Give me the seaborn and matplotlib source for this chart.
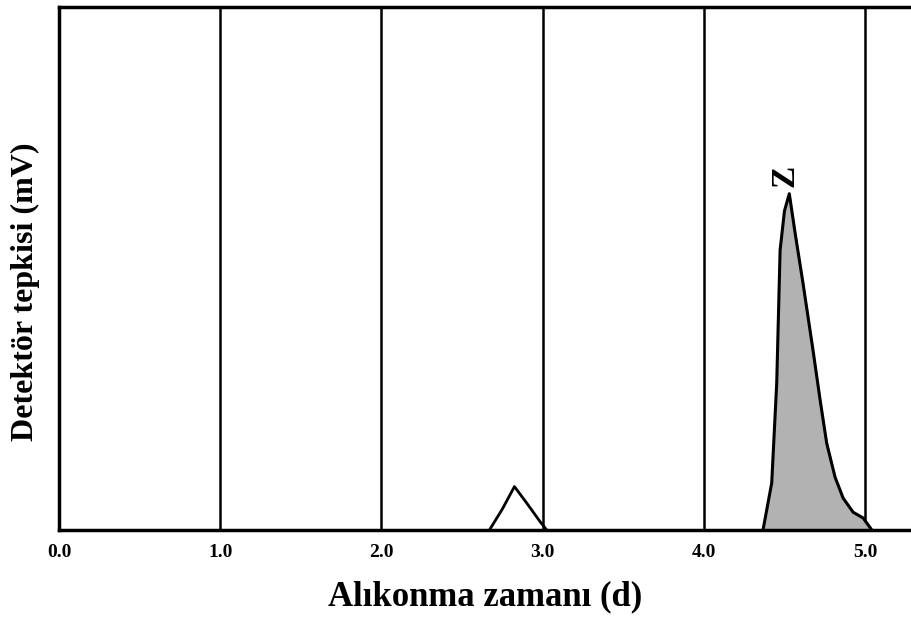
import numpy as np
import pandas as pd
import matplotlib.pyplot as plt
import seaborn as sns

# Pik 1 (kucuk, dolgusuz)
pik1_zaman = [2.67, 2.75, 2.825, 2.90, 2.984, 3.025]
pik1_yanit = [0.0, 0.040, 0.083, 0.052, 0.016, 0.0]

# Pik Z (buyuk, gri dolgulu)
pikz_zaman = [4.367, 4.421, 4.452, 4.473, 4.50, 4.530, 4.566, 4.615, 4.677,
              4.721, 4.762, 4.814, 4.864, 4.926, 4.988, 5.042]
pikz_yanit = [0.0, 0.090, 0.281, 0.535, 0.61, 0.643, 0.568, 0.472, 0.344,
              0.249, 0.166, 0.101, 0.061, 0.034, 0.023, 0.0]

grid_x = [1.0, 2.0, 3.0, 4.0, 5.0]
tick_x = [0.0, 1.0, 2.0, 3.0, 4.0, 5.0]
tick_labels = ["0.0", "1.0", "2.0", "3.0", "4.0", "5.0"]

sns.set_style("white")
plt.rcParams['font.family'] = ['Liberation Serif', 'DejaVu Serif']
plt.rcParams['text.color'] = 'black'
plt.rcParams['axes.labelcolor'] = 'black'
plt.rcParams['xtick.color'] = 'black'

fig = plt.figure(figsize=(9.11, 6.18), dpi=100)
ax = fig.add_axes([0.0648, 0.1424, 0.9352, 0.8463])

for gx in grid_x:
    ax.axvline(gx, color='black', lw=1.8, zorder=1)

df1 = pd.DataFrame({'zaman': pik1_zaman, 'yanit': pik1_yanit})
dfz = pd.DataFrame({'zaman': pikz_zaman, 'yanit': pikz_yanit})

ax.fill_between(dfz['zaman'], 0, dfz['yanit'], color='#b2b2b2', zorder=2)
sns.lineplot(data=dfz, x='zaman', y='yanit', ax=ax, color='black', lw=2.2,
             sort=False, zorder=3)
sns.lineplot(data=df1, x='zaman', y='yanit', ax=ax, color='black', lw=2.0,
             sort=False, zorder=3)

ax.text(4.505, 0.655, "Z", rotation=90, ha='center', va='bottom',
        fontsize=24, fontweight='bold')

ax.set_xlim(0, 5.285)
ax.set_ylim(0, 1.0)
ax.set_xticks(tick_x)
ax.set_xticklabels(tick_labels, fontsize=14, fontweight='bold')
ax.set_yticks([])
ax.tick_params(axis='x', length=0, pad=10)

for s in ['left', 'bottom', 'top']:
    ax.spines[s].set_visible(True)
    ax.spines[s].set_color('black')
    ax.spines[s].set_linewidth(2.5)
ax.spines['right'].set_visible(False)

ax.set_xlabel("Alıkonma zamanı (d)", fontsize=25, fontweight='bold', labelpad=14)
ax.set_ylabel("Detektör tepkisi (mV)", fontsize=23, fontweight='bold')
ax.yaxis.set_label_coords(-0.022, 0.455)

fig.savefig("out.png", dpi=100)
